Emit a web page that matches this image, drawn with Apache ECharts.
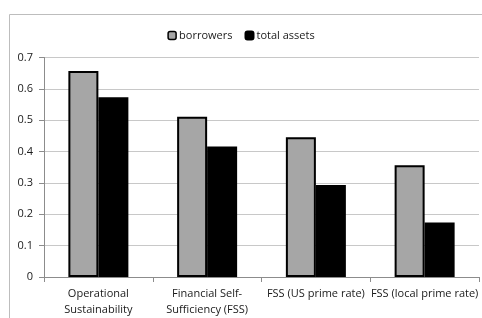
<!DOCTYPE html>
<html><head><meta charset="utf-8">
<script src="https://cdn.jsdelivr.net/npm/echarts@6/dist/echarts.min.js"></script>
<style>html,body{margin:0;padding:0;background:#fff}#c{width:482px;height:318px}</style>
</head><body><div id="c"></div>
<script>
const categories = ['Operational\nSustainability', 'Financial Self-\nSufficiency (FSS)', 'FSS (US prime rate)', 'FSS (local prime rate)'];
const borrowers = [0.657, 0.511, 0.446, 0.356];
const totalAssets = [0.573, 0.416, 0.293, 0.174];
const yTicks = [0, 0.1, 0.2, 0.3, 0.4, 0.5, 0.6, 0.7];

const chart = echarts.init(document.getElementById('c'), null, {renderer: 'canvas'});
const font = 'Open Sans';
chart.setOption({
  animation: false,
  textStyle: {fontFamily: font},
  graphic: [{type: 'rect', shape: {x: 9.5, y: 14.5, width: 500, height: 400}, style: {fill: 'none', stroke: '#bdbdbd', lineWidth: 1}, silent: true, z: -1}],
  legend: {
    top: 25, left: 'center', itemWidth: 8, itemHeight: 8, itemGap: 12,
    textStyle: {fontFamily: font, fontSize: 11, color: '#1a1a1a', padding: [0, 0, 0, -2]},
    data: [
      {name: 'borrowers', itemStyle: {color: '#a6a6a6', borderColor: '#000', borderWidth: 1.5}},
      {name: 'total assets', itemStyle: {color: '#000'}}
    ]
  },
  grid: {left: 44, right: 3, top: 57.5, bottom: 41, containLabel: false},
  xAxis: {
    type: 'category', data: categories,
    axisLine: {lineStyle: {color: '#8c8c8c', width: 1}},
    axisTick: {show: true, length: 5, alignWithLabel: false, lineStyle: {color: '#8c8c8c'}},
    axisLabel: {interval: 0, fontFamily: font, fontSize: 11, color: '#1a1a1a', margin: 9, lineHeight: 16}
  },
  yAxis: {
    type: 'value', min: yTicks[0], max: yTicks[yTicks.length - 1], interval: 0.1,
    axisLine: {show: true, lineStyle: {color: '#8c8c8c', width: 1}},
    axisTick: {show: true, length: 5, lineStyle: {color: '#8c8c8c'}},
    axisLabel: {fontFamily: font, fontSize: 11, color: '#1a1a1a', margin: 11,
      formatter: v => (Math.round(v * 10) / 10).toString()},
    splitLine: {lineStyle: {color: '#c8c8c8', width: 1}}
  },
  series: [
    {name: 'borrowers', type: 'bar', data: borrowers, barWidth: 30, barGap: '0%',
     itemStyle: {color: '#a6a6a6', borderColor: '#000', borderWidth: 2}},
    {name: 'total assets', type: 'bar', data: totalAssets, barWidth: 30,
     itemStyle: {color: '#000', borderColor: '#000', borderWidth: 2}}
  ]
});
</script></body></html>
